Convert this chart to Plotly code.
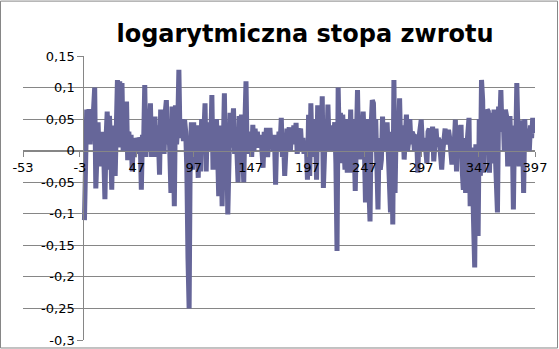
import plotly.graph_objects as go

title_text = "logarytmiczna stopa zwrotu"

returns = [
    -0.11, 0.06, 0.065, 0.02, 0.066, 0.01, 0.065, 0.03, 0.06, 0.1,
    -0.06, 0.04, 0.045, -0.02, 0.01, -0.025, 0.03, -0.01, -0.077, 0.02,
    0.062, -0.03, 0.055, 0.01, -0.062, 0.04, 0.02, -0.04, 0.03, 0.112,
    0.02, 0.11, 0.005, 0.107, 0.0, 0.03, 0.01, 0.078, -0.015, 0.03,
    0.005, 0.025, -0.033, 0.02, -0.01, 0.02, 0.015, -0.005, 0.02, 0.018,
    -0.062, 0.025, 0.01, 0.104, -0.01, 0.03, 0.0, 0.04, 0.075, -0.01,
    0.035, 0.01, 0.054, -0.01, 0.04, 0.02, -0.038, 0.065, 0.01, 0.04,
    -0.005, 0.06, 0.08, 0.01, 0.05, 0.0, -0.067, 0.07, 0.02, -0.088,
    0.072, 0.01, 0.04, 0.128, 0.02, 0.04, 0.05, 0.015, 0.049, 0.03,
    -0.03, -0.17, -0.25, 0.0, 0.045, -0.03, 0.045, 0.0, 0.04, 0.01,
    -0.043, 0.04, -0.033, 0.05, 0.01, 0.03, 0.075, -0.033, 0.045, 0.0,
    0.03, 0.01, 0.088, -0.03, 0.035, 0.02, 0.05, 0.0, -0.072, 0.04,
    0.02, -0.088, 0.03, 0.091, -0.025, 0.03, -0.101, 0.035, 0.06, 0.005,
    0.065, 0.067, -0.005, 0.03, 0.0, -0.05, 0.055, 0.02, 0.057, 0.0,
    -0.05, 0.04, 0.11, -0.005, 0.02, 0.01, 0.03, -0.01, 0.041, 0.0,
    0.035, 0.01, 0.03, 0.005, 0.02, 0.025, 0.0, -0.027, 0.03, 0.01,
    0.036, -0.01, 0.02, 0.036, 0.005, 0.02, 0.0, 0.025, -0.054, 0.02,
    0.0, 0.03, 0.01, 0.052, -0.01, 0.02, -0.04, 0.01, 0.035, 0.02,
    0.037, 0.0, 0.03, 0.01, 0.04, 0.02, 0.044, -0.005, 0.025, 0.03,
    0.035, 0.0, 0.02, -0.005, 0.01, 0.015, -0.046, 0.057, -0.04, 0.075,
    0.0, 0.04, -0.01, 0.05, -0.046, 0.072, 0.0, 0.045, 0.01, 0.086,
    -0.059, 0.03, 0.045, 0.0, 0.073, 0.01, 0.04, 0.0, 0.03, 0.02,
    0.045, -0.02, -0.159, 0.1, 0.01, 0.06, -0.02, 0.057, 0.02, -0.03,
    0.05, -0.035, 0.04, 0.0, 0.065, -0.035, 0.05, 0.02, -0.064, 0.04,
    0.096, 0.0, 0.04, -0.014, 0.03, 0.062, 0.01, -0.082, 0.05, 0.0,
    -0.05, -0.112, 0.04, 0.08, 0.075, 0.0, 0.05, -0.03, -0.093, 0.02,
    -0.03, -0.014, 0.054, 0.0, 0.042, 0.01, 0.045, 0.0, -0.05, -0.098,
    0.03, -0.117, 0.112, -0.067, 0.04, 0.012, 0.02, 0.083, 0.0, 0.012,
    0.04, -0.014, 0.02, 0.057, 0.0, 0.015, 0.05, 0.01, 0.03, 0.025,
    0.0, 0.025, 0.02, -0.035, 0.02, 0.04, 0.049, 0.01, 0.0, 0.02,
    -0.005, -0.02, 0.03, 0.035, 0.0, 0.02, 0.038, -0.017, 0.03, 0.035,
    0.01, 0.02, 0.015, 0.0, -0.03, 0.0, 0.03, 0.035, 0.01, 0.03,
    0.033, 0.02, 0.0, -0.022, 0.02, 0.01, 0.049, -0.033, 0.03, 0.04,
    0.0, 0.041, -0.03, -0.062, 0.02, -0.067, 0.005, 0.03, 0.052, -0.088,
    0.005, -0.04, -0.088, -0.185, 0.01, -0.02, -0.135, 0.05, -0.04, 0.112,
    0.08, -0.035, 0.065, 0.02, 0.065, 0.062, -0.035, 0.06, -0.02, 0.04,
    0.065, 0.0, -0.05, -0.098, 0.07, 0.04, 0.096, 0.03, 0.06, 0.0,
    0.065, 0.055, -0.025, 0.05, 0.055, -0.01, 0.03, -0.093, 0.04, 0.0,
    0.107, 0.03, -0.025, 0.048, 0.03, 0.035, -0.067, 0.05, 0.0, 0.03,
    0.035, 0.0, 0.04, 0.02, 0.052, 0.028,
]
x_index = list(range(1, len(returns) + 1))

x_tickvals = [-53, -3, 47, 97, 147, 197, 247, 297, 347, 397]
x_ticktext = ["-53", "-3", "47", "97", "147", "197", "247", "297", "347", "397"]
y_tickvals = [0.15, 0.1, 0.05, 0, -0.05, -0.1, -0.15, -0.2, -0.25, -0.3]
y_ticktext = ["0,15", "0,1", "0,05", "0", "-0,05", "-0,1", "-0,15", "-0,2", "-0,25", "-0,3"]

X_MIN, X_MAX = -53, 397
Y_MIN, Y_MAX = -0.3, 0.15

W, H = 559, 349
ML, MR, MT, MB = 23, 24, 55.5, 9
PW = W - ML - MR
PH = H - MT - MB

grey = "#868686"
line_col = "#666699"

fig = go.Figure()
fig.add_trace(go.Scatter(
    x=x_index, y=returns, mode="lines",
    line=dict(color=line_col, width=5),
    showlegend=False, hoverinfo="skip",
))

fig.update_layout(
    width=W, height=H,
    margin=dict(l=ML, r=MR, t=MT, b=MB, pad=0, autoexpand=False),
    paper_bgcolor="white", plot_bgcolor="white",
    separators=", ",
    font=dict(family="DejaVu Sans", size=13, color="black"),
    title=dict(
        text=title_text,
        font=dict(family="DejaVu Sans", size=24, color="black", weight="bold"),
        x=(305 - ML) / PW, xref="paper", xanchor="center",
        y=1 - 34 / H, yref="container", yanchor="middle",
        automargin=False,
    ),
    xaxis=dict(
        range=[X_MIN, X_MAX], tickvals=x_tickvals, ticktext=x_ticktext,
        showgrid=False, zeroline=False, automargin=False,
        showline=True, linecolor=grey, linewidth=1,
        ticks="outside", ticklen=5, tickcolor=grey,
        anchor="free", position=(0 - Y_MIN) / (Y_MAX - Y_MIN),
        tickfont=dict(size=13, family="DejaVu Sans"),
    ),
    yaxis=dict(
        range=[Y_MIN, Y_MAX], tickvals=y_tickvals, ticktext=y_ticktext,
        showgrid=True, gridcolor=grey, gridwidth=1, zeroline=False,
        automargin=False,
        showline=True, linecolor=grey, linewidth=1,
        ticks="outside", ticklen=6, tickcolor=grey,
        anchor="free", position=(0 - X_MIN) / (X_MAX - X_MIN),
        tickfont=dict(size=13, family="DejaVu Sans"),
    ),
    shapes=[dict(
        type="rect", xref="paper", yref="paper",
        x0=(0.5 - ML) / PW, x1=(557.5 - ML) / PW,
        y0=(H - MB - 348) / PH, y1=(H - MB - 0.5) / PH,
        line=dict(color=grey, width=1), fillcolor="rgba(0,0,0,0)",
        layer="above",
    )],
)

fig.write_html("out.html")
